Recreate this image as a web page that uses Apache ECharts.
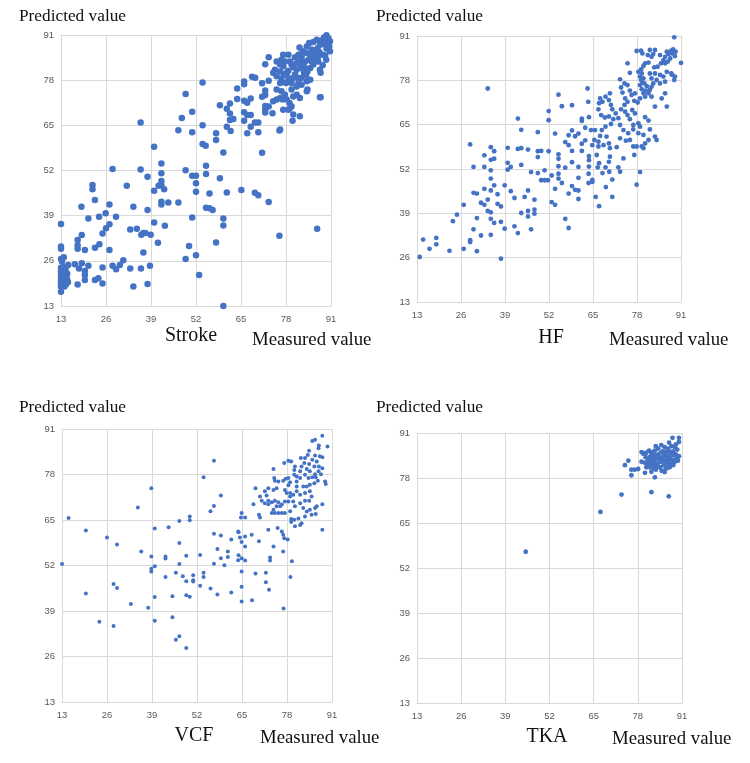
<!DOCTYPE html>
<html>
<head>
<meta charset="utf-8">
<title>Measured vs predicted</title>
<script src="https://cdn.jsdelivr.net/npm/echarts@6/dist/echarts.min.js"></script>
<style>
  html, body { margin: 0; padding: 0; background: #fff; }
  #main { width: 750px; height: 763px; }
</style>
</head>
<body>
<div id="main"></div>
<script>
// axis ticks shared by all four panels
var ticks = [13, 26, 39, 52, 65, 78, 91];
var panelNames = ['Stroke', 'HF', 'VCF', 'TKA'];

// [measured, predicted]
var strokePoints = [
  [13, 36.6], [13, 30.1], [13, 29.5], [13, 26.5], [13.8, 27], [13.3, 25.8], [15.1, 24.8],
  [13, 24], [13.6, 24.2], [14.3, 23.6], [13, 23], [13.5, 22.6], [14.2, 22.8], [14.8, 22.3],
  [13, 22], [13.4, 21.5], [14, 21.8], [14.6, 21.3], [13, 21], [13.5, 20.6], [14.1, 20.9],
  [14.8, 20.5], [13, 20.2], [13.6, 19.8], [14.3, 20], [15, 19.8], [13, 19.3], [13.7, 19],
  [14.4, 19.2], [13, 18.6], [14, 18.6], [13, 17.1],
  [20.9, 38.2], [24, 38.7], [28.9, 38.7], [27, 36.5], [26, 35.4], [25, 33.9], [19, 33.4],
  [17.8, 32], [17.8, 30.5], [17.8, 29.5], [19.9, 29.1], [22.8, 29.8], [24.1, 30.8], [27, 29.1],
  [33, 35], [34.9, 35.2], [36.8, 34], [37.4, 34], [17, 25], [18.2, 23.8], [19, 25.3],
  [20.9, 24.6], [19.9, 23.1], [19.9, 21.9], [19.9, 20.5], [17.8, 19.2], [25, 24.1],
  [27.9, 24.6], [28.9, 23.6], [30, 24.8], [31, 26.2], [33, 23.8], [36.1, 23.8], [23.8, 21],
  [22.8, 20.5], [25, 19.5], [33.9, 18.6],
  [22.1, 47.8], [22.1, 46.6], [22.8, 43.5], [18.9, 41.6], [25.9, 39.7], [27, 42.2], [32, 47.6],
  [27.9, 52.4], [36, 52.3], [36, 65.8], [33.9, 41.6], [38, 50.2], [38, 40.6], [39.9, 58.8],
  [39.9, 46.2], [41.2, 47.6], [42, 54], [42, 51.2], [42, 49], [42, 47.8], [42, 43], [42, 42.2],
  [42.8, 46.6], [43, 36.1], [44, 42.8], [39.9, 37], [41, 31.2], [38.9, 33.5], [36.2, 33.5],
  [38, 19.3], [38.7, 24.6], [36.8, 28.4],
  [46.9, 42.8], [46.9, 63.6], [47.9, 67.1], [49, 74], [49, 52.1], [49, 26.5], [50, 30.3],
  [50.9, 68.9], [50.9, 63], [50.9, 50.5], [50.9, 38.5], [52, 50.5], [52, 48.3], [52, 45.9],
  [52, 27.6], [52.9, 21.9], [53.9, 77.3], [53.9, 65], [53.9, 59.6], [54.8, 59.1], [54.9, 53.4],
  [54.9, 51], [54.9, 41.3], [55.9, 41.1], [56.8, 40.6], [55.9, 45.4], [57.8, 62.7], [57.8, 60.8],
  [57.8, 31.3], [58.9, 70.8], [58.9, 49.8], [59.9, 57.2], [59.9, 38.2], [59.9, 36.2], [59.9, 13],
  [60.9, 69.8], [60.9, 64.6], [60.9, 45.7], [61.8, 71.3], [61.8, 68.4], [61.8, 66.5], [62, 63.4],
  [62.8, 66.8], [63.9, 72.6], [63.9, 75.6], [65.1, 46.4], [65.9, 77.6], [65.9, 76.8], [65.9, 72.1],
  [65.9, 68.8], [65.9, 66.3], [66.8, 71.5], [66.8, 68], [66.8, 62.7], [67.8, 72.7], [67.8, 68],
  [67.8, 64.6], [68.2, 79], [69.1, 78.7], [69, 65.8], [70, 65.8], [69, 45.6], [70, 44.9],
  [70, 63], [71.1, 77.1], [71.1, 73.2], [72, 73.7], [71.1, 57.1], [72, 70.6], [72, 69.4],
  [72, 68.7], [73, 70.4], [72, 75], [73, 77.8], [73, 84.6], [73, 42.9], [72, 82.6], [76.1, 33.2],
  [76.1, 63.5], [87, 35.2], [88, 73.1],
  [89.7, 90.9], [90.2, 90.1], [89, 90.3], [90.7, 89.2], [89.3, 88.7], [88.3, 89.4], [90.5, 87.7],
  [89.7, 87.1], [87.8, 88.2], [87.1, 87.2], [87.6, 86.1], [88.8, 85.3], [86.4, 86.3], [85.4, 86.8],
  [85, 85.3], [85.7, 84.4], [86.7, 83.9], [84.5, 83.9], [83.5, 83.4], [83.8, 85.8], [82.5, 84.8],
  [81.9, 87.4], [82, 83.4], [83, 82.5], [81.1, 82.9], [82.2, 81.5], [83.5, 81.5], [84.2, 80.5],
  [81.1, 81], [80.1, 81.7], [79.6, 82.5], [79.2, 83.4], [77.7, 83.4], [76.7, 83.9], [77.2, 82],
  [78.7, 80.7], [78.2, 80.1], [80.6, 79.6], [81.6, 78.6], [81.6, 77.2], [82.5, 76.7], [81.1, 76.2],
  [79.6, 77.2], [78.7, 78.6], [77.4, 79.6], [76.3, 80.5], [74.8, 81], [74.3, 80.1], [75.3, 79.1],
  [76.7, 78.4], [76.3, 77.2], [78, 77.2], [79.6, 75.3], [81.1, 73.8], [80.1, 73.3], [84, 77.7],
  [85, 78.1], [84.2, 75.3], [87.8, 81], [88, 80.1], [88.6, 82.3], [89.3, 85.1], [87.8, 73.1],
  [86.7, 85.1], [85.4, 83.4], [85, 81.5], [85.9, 82.5], [87.3, 83.4], [89.6, 83.9], [90.7, 86.3],
  [78.7, 85.3], [77.2, 85.3], [76.3, 82.5], [75.3, 75.3], [76.7, 74.8], [77.7, 73.8], [76.3, 72.9],
  [77, 72.4], [78.2, 72.4], [79, 71.4], [79.6, 70.5], [79.2, 70], [78.7, 69.5], [80.1, 68.1],
  [82, 67.6], [79.9, 66.3], [77.2, 69.5], [75.3, 72.4], [74.3, 71.9], [74.1, 68.5], [76.3, 63.8],
  [75.3, 83.4], [80.6, 84.6], [81.6, 85.3], [82.8, 86.3], [84, 87.7], [84.7, 88.7], [85.9, 89],
  [86.9, 89.6], [88.6, 88.4], [87.3, 84.8], [83.2, 80.1], [80.1, 78.6], [79.2, 77.7], [82.5, 78.6],
  [83.8, 79.4], [82, 72.9], [84, 74.8]
];

var hfPoints = [
  [13.8, 26.2], [14.8, 31.3], [16.7, 28.6], [18.7, 31.8], [18.7, 29.9], [22.6, 28], [23.6, 36.7],
  [24.8, 38.6], [26.8, 41.5], [26.8, 28.6], [28.7, 59.2], [28.7, 31.1], [28.7, 30.6], [29.7, 52.6],
  [29.7, 45], [30.7, 44.8], [29.7, 34.3], [30.7, 37.6], [30.7, 27.9], [31.9, 42.1], [31.9, 32.5],
  [32.9, 56], [32.9, 52.6], [32.9, 46.2], [32.9, 41.5], [33.9, 75.6], [33.9, 43], [33.9, 39.7],
  [34.8, 39.3], [34.8, 58.4], [34.8, 54.7], [35.8, 55], [34.8, 51.6], [34.8, 49.2], [34.8, 45.7],
  [34.8, 37.4], [34.8, 32.7], [35.8, 57.2], [35.8, 47.2], [35.8, 36.2], [36.8, 44.6], [36.8, 41.8],
  [37.8, 41], [37.8, 36.5], [37.8, 25.7], [38.9, 47.2], [38.9, 34.5], [39.8, 58.2], [39.8, 53.8],
  [39.8, 51.8], [40.7, 52.6], [40.7, 45.5], [41.8, 43.5], [41.8, 35.2], [42.8, 66.8], [42.8, 57.9],
  [42.8, 33.2], [43.8, 63.5], [43.8, 58.1], [43.8, 53.2], [43.8, 39.1], [44.8, 43.8], [45.8, 57.7],
  [45.8, 45.7], [45.8, 39.7], [45.8, 38.1], [46.7, 51.1], [46.7, 34.3], [47.7, 43], [47.7, 40.1],
  [47.7, 38.9], [48.7, 62.8], [48.7, 57.2], [49.7, 57.3], [48.7, 55.5], [48.7, 50.8], [49.7, 48.7],
  [50.7, 51.6], [50.7, 48.7], [51.7, 48.7], [51.9, 69], [51.9, 66.3], [51.9, 57.2], [52.8, 50.1],
  [52.8, 42.3], [53.8, 46.2], [53.8, 62.4], [53.8, 41.5], [54.8, 73.8], [54.8, 56.3], [54.8, 55],
  [54.8, 52.8], [54.8, 50.6], [54.8, 49.2], [55.8, 70.4], [55.8, 47.9], [56.8, 59.9], [56.8, 52.4],
  [56.8, 37.4], [57.8, 61.9], [57.8, 59], [57.8, 44.8], [57.8, 34.7], [58.8, 63.3], [58.8, 57.3],
  [58.8, 54], [58.8, 47], [58.8, 70.7], [59.7, 61.6], [59.7, 45.9], [60.7, 62.4], [60.7, 52.6],
  [60.7, 49.4], [60.7, 45.7], [60.7, 43.2], [61.7, 66.8], [61.7, 66.1], [61.7, 59.4], [61.7, 57.3],
  [62.7, 64.1], [62.7, 60.4],
  [63.7, 50.6], [63.7, 47.9], [64.8, 48.8], [64.8, 48.2], [65.8, 43.8], [66.8, 41.1], [67.8, 50.8],
  [68.8, 46.7], [69.8, 51.2], [70.7, 48.9], [70.7, 43.8], [73, 51.2], [77.9, 47.4], [78.9, 51.1],
  [89, 90.6], [88.7, 87.1], [88.1, 86.7], [89.4, 86.4], [88.4, 85.9], [87.3, 85.7], [86.8, 86.4],
  [86.3, 84.9], [87.8, 84.4], [89.2, 85.1], [87.1, 83.5], [85.8, 83.9], [85.1, 83], [86.3, 83],
  [84.8, 85.4], [83.3, 86.9], [82.8, 85.7], [81.8, 86.9], [82.3, 84.9], [81.2, 85.4], [79.6, 85.9],
  [79.2, 86.7], [80.4, 83], [81.4, 83.2], [79.9, 82.2], [79.2, 81.2], [78.4, 80.5], [79.4, 80],
  [78.9, 79.1], [79.9, 78.6], [79.2, 78.1], [79.6, 77.3], [78.9, 76.6], [80.2, 77.1], [80.9, 76.3],
  [79.4, 75.4], [80.6, 75], [79.9, 74.2], [81.4, 74.2], [81.8, 75.2], [82.3, 76.1], [82.8, 77.1],
  [83.8, 78.1], [82.3, 78.6], [81.8, 80], [83.3, 80], [84.8, 79.6], [85.8, 79.1], [86.3, 77.6],
  [84.8, 77.1], [84.1, 82], [83.1, 81.8], [86.8, 80.5], [88.1, 80], [89, 78.1], [88.4, 79.6],
  [89.2, 79.1], [80.4, 73.2], [78.9, 72.7], [77.2, 72], [78.2, 71.5], [76.4, 73.7], [77.4, 74.2],
  [75.9, 75], [75.2, 76.6], [74.3, 77.1], [75.2, 83], [75.9, 80.2], [73, 78.3], [73.3, 75.9],
  [73.7, 74.4], [74.5, 72.7], [75.2, 71.7], [74.3, 70.8], [73.3, 69.5], [74.5, 68.8], [75.2, 67.8],
  [76.6, 69.3], [77.4, 68.3], [75.9, 66.6], [76.9, 64.9], [78.4, 65.4], [78.9, 64.4], [80.4, 67.2],
  [81.4, 66.2], [81.8, 63.6], [83.3, 61.5], [83.8, 60.5], [81.4, 60.5], [80.4, 59.5], [79.4, 58.6],
  [79.9, 62], [78.4, 62.5], [76.9, 63.6], [75.4, 62.5], [74, 63.4], [73, 64.9], [72.5, 66.9],
  [71.7, 68.3], [70.7, 69.5], [70.3, 70.8], [69.7, 72.2], [70, 74.2], [68.7, 73.2], [67.8, 71.7],
  [67.1, 72.7], [66.8, 71.3], [66.6, 69.5], [67.4, 67.8], [68.5, 67.1], [69.7, 67.4], [71, 66.6],
  [70.3, 65.2], [68.7, 64.4], [67.6, 63.4], [67.1, 61.7], [66.6, 60], [65.4, 60.5], [64.8, 59],
  [64.4, 63.4], [63.8, 67.2], [63.6, 71.7], [63.4, 75.6], [65.6, 63.4], [69, 61.5], [69.7, 59.5],
  [70, 58.1], [72, 58.4], [73, 61], [74.7, 60.3], [75.9, 60.5], [76.9, 58.6], [77.9, 58.6],
  [79.9, 58.1], [77.2, 56.1], [74, 55.1], [72.5, 52.5], [70, 55.6], [69.7, 54.1], [68.7, 52.5],
  [66.1, 56.1], [66.6, 58.6], [68.1, 59], [63.8, 55.8], [63.8, 54.6], [63.8, 52.7], [66.8, 53.7],
  [66.4, 52.5], [82.3, 73.2], [83.3, 70.3], [85.3, 72.7], [86.8, 70.3], [86.3, 74.2], [91, 83.1],
  [77.9, 86.6]
];

var vcfPoints = [
  [13, 52.4], [14.9, 65.6], [19.9, 62], [19.9, 44], [23.8, 35.9], [26, 60], [27.9, 46.7],
  [27.9, 34.7], [28.9, 58], [28.9, 45.6], [32.9, 41], [34.9, 68.6], [35.9, 56], [37.9, 39.9],
  [38.8, 74.1], [38.8, 54.6], [38.8, 51.1], [38.8, 50.3], [39.8, 51.8], [39.8, 62.6], [39.8, 43],
  [39.8, 36.2], [42.9, 48.7], [42.9, 54.6], [42.9, 54], [43.8, 62.9], [44.9, 43.2], [44.9, 37.2],
  [45.9, 49.9], [45.9, 30.8], [46.9, 64.7], [46.9, 58.4], [46.9, 52.4], [46.9, 31.8], [47.9, 48.9],
  [48.9, 47.5], [48.9, 54.8], [48.9, 43.5], [48.9, 28.4], [49.9, 66], [49.9, 64.9], [49.9, 43.1],
  [50.9, 49.2], [50.9, 47.8], [50.9, 47.4], [52.9, 55], [52.9, 46.2], [53.9, 77.2], [53.9, 49.9],
  [53.9, 48.7], [55.9, 67.5], [55.9, 45.4], [56.9, 81.9], [56.9, 69], [56.9, 61.1], [56.9, 52.5],
  [57.9, 56.7], [57.9, 43.7], [58.9, 72], [58.9, 60.6], [58.9, 54.1], [59.9, 52.1], [60.9, 56],
  [60.9, 54.4], [61.9, 59.4], [61.9, 44.3], [63.9, 61.7], [63.9, 53.5], [64.9, 50.3], [64.9, 45.9],
  [64.9, 41.7], [67.9, 42.1], [68.9, 49.7], [71.9, 49.9], [71.9, 47.2], [72.8, 45.1], [77, 39.7],
  [79, 48.7],
  [88.2, 89.1], [86.1, 87.9], [85.3, 87.6], [91.1, 88.2], [91.1, 85.5], [89.7, 86], [87.2, 86.3],
  [87.1, 85.5], [84.4, 84.8], [84, 83.6], [83.2, 82.7], [82, 82.7], [83, 81.3], [84.4, 81],
  [85.3, 82.2], [86.1, 83.4], [87.5, 83.2], [88.2, 82.9], [86.6, 81.7], [85.9, 80.3], [87.2, 80.3],
  [88.2, 79.8], [87.1, 78.9], [86.1, 78.1], [84.6, 78.9], [83.7, 79.6], [82.2, 80.3], [81.8, 78.9],
  [83.2, 77.9], [84.2, 77], [85.3, 77.2], [86.3, 77.2], [86.9, 76.2], [85.9, 75.5], [84.6, 75.1],
  [83.7, 74.6], [82.7, 74.6], [81.8, 77], [80.8, 77.4], [80.1, 79.3], [80.3, 80.3], [79.2, 81.7],
  [78.4, 81.9], [77.2, 81.3], [74.1, 79.6], [74.3, 77], [74.5, 76.2], [75.5, 76], [76.9, 76.2],
  [77.6, 76.8], [78.4, 77], [78.9, 75.8], [80.1, 77.9], [80.8, 76], [80.8, 74.6], [78.4, 74.9],
  [77.4, 73.6], [77.9, 72.7], [78.9, 72.7], [79.8, 72.2], [80.8, 73.2], [81.8, 72.2], [83.2, 72.7],
  [84.6, 73.2], [85.1, 71.7], [84.4, 70.5], [83.2, 70.5], [81.8, 69.8], [82.7, 68.4], [83.7, 67.4],
  [84.6, 67.9], [86.1, 68.4], [86.3, 66.7], [85.1, 66.5], [86.6, 68.9], [88.2, 69.5], [89.2, 75.3],
  [89, 76], [87.8, 78.1], [75, 74.1], [74.1, 73.6], [72.6, 74.1], [71.6, 73.2], [72.1, 72],
  [70.2, 71.7], [70.7, 70.5], [72.6, 70.5], [73.6, 70.1], [74.5, 70.5], [75.5, 70.1], [75, 68.9],
  [76, 68.9], [76.5, 69.4], [77.4, 70.3], [78.4, 70.3], [78.9, 71.7], [79.8, 70.3], [80.3, 68.9],
  [78.9, 67.5], [77.4, 67], [76.5, 67], [75.5, 67], [74.5, 67], [73.6, 67], [74.1, 67.9],
  [72.6, 69.5], [71.6, 69.8], [69.9, 66.5], [68.9, 74.1], [79.2, 65.3], [79.2, 64.4], [80.1, 65.1],
  [81.3, 65.4], [82.2, 64.1], [83.2, 66], [81.8, 63.6], [80.3, 63.2], [88.2, 62.2], [76.5, 61.7],
  [75.3, 62.7], [72.6, 62.2], [70.2, 65.7], [68.3, 69.5], [64.9, 67], [64.7, 65.7], [65.9, 65.7],
  [64, 61.5], [64.4, 60], [65.9, 60.3], [67.8, 60.8], [64.9, 58.7], [69.9, 58.9], [76.9, 60.8],
  [77.2, 59.8], [78.2, 59.4], [74.1, 57.4], [65.9, 57.4], [76.9, 56], [73.1, 54.3], [73.1, 53.4],
  [64, 54.9], [64.9, 54.1], [65.9, 53.4], [79.4, 53.2]
];

var tkaPoints = [
  [45, 56.7], [67, 68.2], [73.2, 73.2], [82, 73.9], [87.1, 72.7],
  [74.2, 81.7], [75.2, 83], [76.1, 80.4], [76.1, 78.8], [77.1, 80.4], [78.1, 80.6], [79.1, 85.5],
  [80.1, 82.4], [79.1, 82.7], [80.1, 79.5], [82, 79.8], [81.5, 81.1], [83, 78.2], [85, 80.1],
  [85.9, 79.7], [86.6, 80.9], [88.2, 89.6], [90.1, 89.6], [90.1, 88.4], [91.8, 85.5], [90.1, 84.3],
  [89.8, 83], [81.3, 85.9], [82.3, 85.5], [83, 85.9], [84, 86.5], [84.9, 87.5], [85.9, 86.9],
  [86.9, 86.5], [87.9, 87.2], [88.9, 86.9], [89.2, 87.7], [89.6, 86.2], [88.4, 85.7], [87.4, 85.6],
  [86.2, 85.6], [85.2, 85.7], [84.3, 85], [83.3, 84.6], [82.3, 84.3], [81.5, 84], [81, 83],
  [81.7, 82.7], [82.7, 83], [83.5, 83.6], [84.5, 83.8], [85.4, 84], [86.4, 84.3], [87.4, 84.3],
  [88.4, 84.6], [89.2, 84.8], [87.9, 83.3], [86.9, 83], [85.9, 83], [84.9, 82.7], [84, 82.4],
  [83, 82.1], [82, 81.7], [81, 82.1], [80.3, 84], [79.6, 85], [80.5, 85.3], [83.5, 81.4],
  [84.5, 81.1], [85.6, 81.7], [86.6, 82.1], [87.6, 82.1], [88.6, 82.4], [88.9, 83.3], [87.4, 81.1],
  [86.2, 80.7], [84.7, 83.3], [85.6, 85], [89.6, 83.8], [80.5, 81.1], [88.4, 81.7], [82, 85],
  [83.3, 87.2], [87.2, 88.2], [86.4, 85.3], [87.9, 85], [86.9, 83.6], [89.2, 82.9], [81.3, 81.4],
  [82.5, 80.9], [83.3, 80.4], [82.3, 83.6], [81.5, 83.3]
];

var allPoints = [strokePoints, hfPoints, vcfPoints, tkaPoints];
var dotSizes = [6.5, 4.8, 4, 4.8];

// grid boxes
var grids = [
  { left: 61, top: 35, width: 270, height: 271 },
  { left: 417, top: 36, width: 264, height: 266 },
  { left: 62, top: 429, width: 270, height: 273 },
  { left: 417, top: 433, width: 265, height: 270 }
];

function makeAxis(i) {
  return {
    type: 'value',
    gridIndex: i,
    min: ticks[0],
    max: ticks[ticks.length - 1],
    interval: ticks[1] - ticks[0],
    axisLine: { show: true, lineStyle: { color: '#d9d9d9' } },
    axisTick: { show: false },
    splitLine: { show: true, lineStyle: { color: '#d9d9d9', width: 1 } },
    axisLabel: { color: '#595959', fontSize: 9.5, fontFamily: 'Liberation Sans' }
  };
}

var xAxes = [], yAxes = [], series = [];
for (var i = 0; i < 4; i++) {
  var xa = makeAxis(i);
  xa.axisLabel.margin = 8;
  xAxes.push(xa);
  var ya = makeAxis(i);
  ya.axisLabel.margin = 7;
  yAxes.push(ya);
  series.push({
    type: 'scatter',
    name: panelNames[i],
    xAxisIndex: i,
    yAxisIndex: i,
    symbolSize: dotSizes[i],
    itemStyle: { color: '#4472C4', opacity: 1 },
    data: allPoints[i]
  });
}

// text labels
var serif = 'Liberation Serif';
function txt(text, x, y, size, align) {
  return {
    type: 'text',
    x: x,
    y: y,
    style: {
      text: text,
      fill: '#111',
      font: size + 'px "' + serif + '"',
      align: align || 'left',
      verticalAlign: 'middle'
    }
  };
}

var labelPos = [
  { yl: [19, 16], name: [191, 336], meas: [252, 340] },
  { yl: [376, 16], name: [551, 338], meas: [609, 340] },
  { yl: [19, 407], name: [194, 736], meas: [260, 738] },
  { yl: [376, 407], name: [547, 737], meas: [612, 739] }
];
var graphics = [];
labelPos.forEach(function (p, k) {
  graphics.push(txt('Predicted value', p.yl[0], p.yl[1], 17.3));
  graphics.push(txt(panelNames[k], p.name[0], p.name[1], 20, 'center'));
  graphics.push(txt('Measured value', p.meas[0], p.meas[1], 18.8));
});

var option = {
  backgroundColor: '#fff',
  animation: false,
  grid: grids,
  xAxis: xAxes,
  yAxis: yAxes,
  graphic: graphics,
  series: series
};

var chart = echarts.init(document.getElementById('main'), null, { renderer: 'canvas' });
chart.setOption(option);
</script>
</body>
</html>
